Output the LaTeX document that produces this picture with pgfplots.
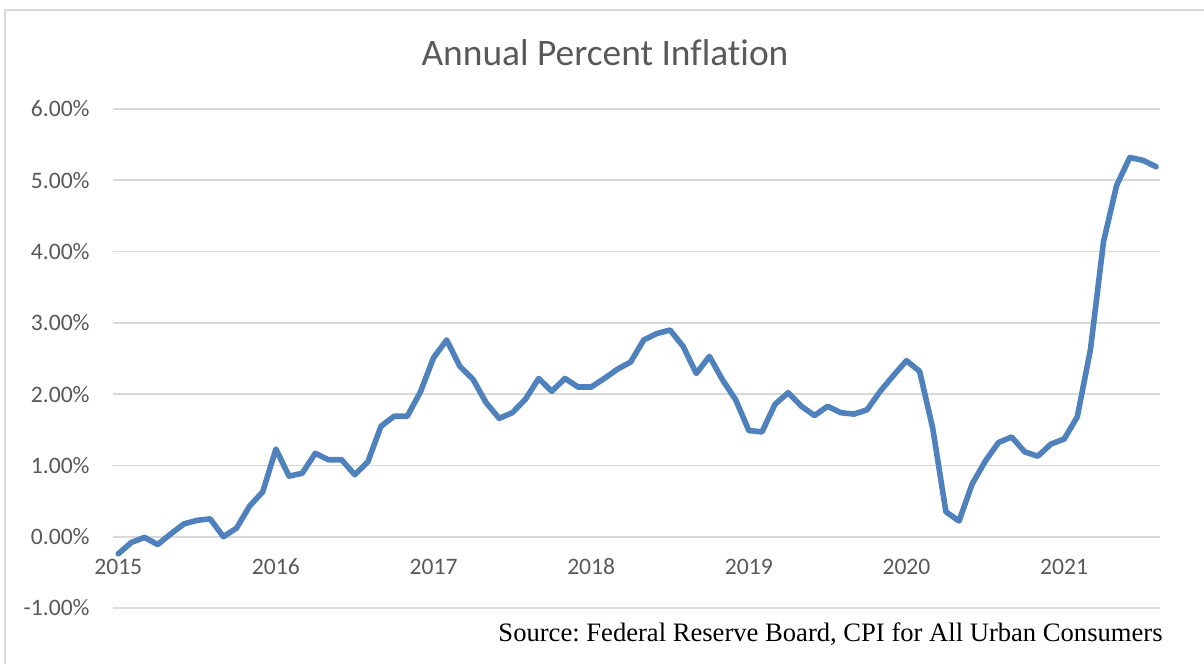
\documentclass[border=0pt]{standalone}
\usepackage{fontspec}
\setmainfont{Carlito}[Ligatures={NoCommon}]
\newfontfamily\srcfont{Liberation Serif}
\usepackage{pgfplots}
\pgfplotsset{compat=1.18}
\definecolor{linecol}{RGB}{79,129,189}
\definecolor{txtgray}{RGB}{89,89,89}
\definecolor{gridgray}{RGB}{217,217,217}

% monthly index 0 = Jan 2015 ... 79 = Aug 2021
\pgfplotstableread{
m  v
0  -0.24
1  -0.08
2  -0.01
3  -0.11
4  0.04
5  0.18
6  0.23
7  0.25
8  0.00
9  0.12
10 0.43
11 0.63
12 1.23
13 0.85
14 0.89
15 1.17
16 1.08
17 1.08
18 0.87
19 1.05
20 1.55
21 1.69
22 1.69
23 2.03
24 2.51
25 2.76
26 2.39
27 2.21
28 1.88
29 1.66
30 1.74
31 1.93
32 2.22
33 2.04
34 2.22
35 2.10
36 2.10
37 2.22
38 2.35
39 2.45
40 2.76
41 2.85
42 2.90
43 2.67
44 2.29
45 2.53
46 2.20
47 1.92
48 1.49
49 1.47
50 1.86
51 2.02
52 1.83
53 1.70
54 1.83
55 1.74
56 1.72
57 1.78
58 2.04
59 2.26
60 2.47
61 2.32
62 1.52
63 0.35
64 0.22
65 0.74
66 1.06
67 1.32
68 1.40
69 1.19
70 1.13
71 1.30
72 1.37
73 1.68
74 2.62
75 4.14
76 4.93
77 5.32
78 5.28
79 5.19
}\cpidata

\begin{document}
\frenchspacing
\begin{tikzpicture}[x=0.5pt,y=0.5pt]
\useasboundingbox (0,0) rectangle (1204,664);
% outer chart frame (runs off to the right and bottom)
\draw[gridgray, line width=0.8pt] (5,0) -- (5,654) -- (1204,654);

\begin{axis}[
    at={(56.5pt,28pt)}, anchor=south west,
    scale only axis,
    width=523.5pt, height=249.5pt,
    xmin=-0.4, xmax=79.3,
    ymin=-1, ymax=6,
    axis line style={draw=none},
    major tick length=0pt,
    xtick={0,12,24,36,48,60,72},
    xticklabels={2015,2016,2017,2018,2019,2020,2021},
    ytick={-1,0,1,2,3,4,5,6},
    yticklabels={-1.00\%,0.00\%,1.00\%,2.00\%,3.00\%,4.00\%,5.00\%,6.00\%},
    ymajorgrids,
    grid style={gridgray, line width=0.8pt},
    tick label style={font=\fontsize{11.8}{13}\selectfont, text=txtgray, inner sep=0pt},
    yticklabel style={anchor=east, xshift=-11.5pt},
    xticklabel style={anchor=base, yshift=16.5pt},
    clip=false,
]
\addplot[linecol, line width=2.8pt, line join=round, line cap=round] table[x=m, y=v] {\cpidata};
\end{axis}

\node[anchor=base, text=txtgray, font=\fontsize{18.7}{21}\selectfont, inner sep=0pt] at (605,598) {Annual Percent Inflation};
\node[anchor=base east, font=\srcfont\fontsize{13.3}{15}\selectfont, inner sep=0pt] at (1163,23) {Source: Federal Reserve Board, CPI for All Urban Consumers};
\end{tikzpicture}
\end{document}
